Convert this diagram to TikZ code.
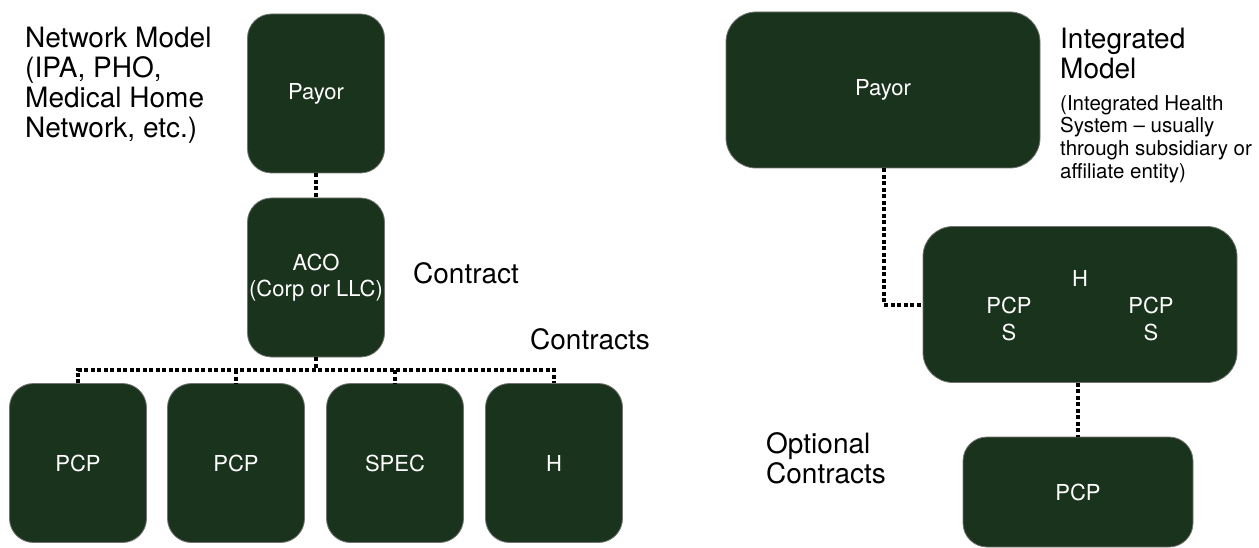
\documentclass[tikz,border=0pt]{standalone}
\usepackage{fontspec}
\setmainfont{TeX Gyre Heros}
\definecolor{boxgreen}{RGB}{26,51,29}
\tikzset{
  box/.style={draw=black!55, line width=0.8pt, fill=boxgreen, text=white,
    rounded corners=24pt, inner sep=0pt, align=center,
    font=\fontsize{22}{26}\selectfont},
  lbox/.style={box, minimum width=137pt, minimum height=159pt},
  rbox/.style={box, rounded corners=30pt, minimum width=314pt, minimum height=156pt},
  inside/.style={text=white, inner sep=0pt, align=center, font=\fontsize{22}{27}\selectfont},
  link/.style={line width=4pt, dash pattern=on 4pt off 2.5pt},
  note/.style={anchor=north west, inner sep=0pt, align=left, font=\fontsize{28}{30}\selectfont},
  smallnote/.style={anchor=north west, inner sep=0pt, align=left, font=\fontsize{20.5}{22.7}\selectfont},
}
\begin{document}
\begin{tikzpicture}[x=1pt, y=-1pt]
  \useasboundingbox (0,0) rectangle (1259,548);
  % network model
  \node[lbox] (payorL) at (316,93.5) {Payor};
  \node[lbox] (aco) at (316,277.5) {ACO\\(Corp or LLC)};
  \node[lbox] (pcpA) at (78,463) {PCP};
  \node[lbox] (pcpB) at (236,463) {PCP};
  \node[lbox] (spec) at (395,463) {SPEC};
  \node[lbox] (hosp) at (554,463) {H};
  \coordinate (bus) at (0,370);
  \draw[link] (payorL.south) -- (aco.north);
  \draw[link] (aco.south) -- (aco.south |- bus);
  \draw[link] (pcpA.north) -- (pcpA.north |- bus) -- (hosp.north |- bus) -- (hosp.north);
  \foreach \n in {pcpB,spec}
    \draw[link] (\n.north |- bus) -- (\n.north);
  \node[note] (netmodel) at (25,26.5) {Network Model\\(IPA, PHO,\\Medical Home\\Network, etc.)};
  \node[note] (contract) at (413,262) {Contract};
  \node[note] (contracts) at (530,328) {Contracts};
  % integrated model
  \node[rbox] (payorR) at (883,90) {Payor};
  \node[rbox] (ihs) at (1080,304.5) {};
  \node[box, minimum width=230pt, minimum height=110pt] (pcpR) at (1078,492) {PCP};
  \node[inside] (ihsH) at (1080,278) {H};
  \node[inside] (ihsL) at (1009,318.5) {PCP\\S};
  \node[inside] (ihsR) at (1151,318.5) {PCP\\S};
  \draw[link] (payorR.south -| 884,0) |- (ihs.west);
  \draw[link] (ihs.south -| pcpR.north) -- (pcpR.north);
  \node[note] (intmodel) at (1060,28) {Integrated\\Model};
  \node[smallnote] (intnote) at (1060,95) {(Integrated Health\\System -- usually\\through subsidiary or\\affiliate entity)};
  \node[note] (optional) at (766,432) {Optional\\Contracts};
\end{tikzpicture}
\end{document}
